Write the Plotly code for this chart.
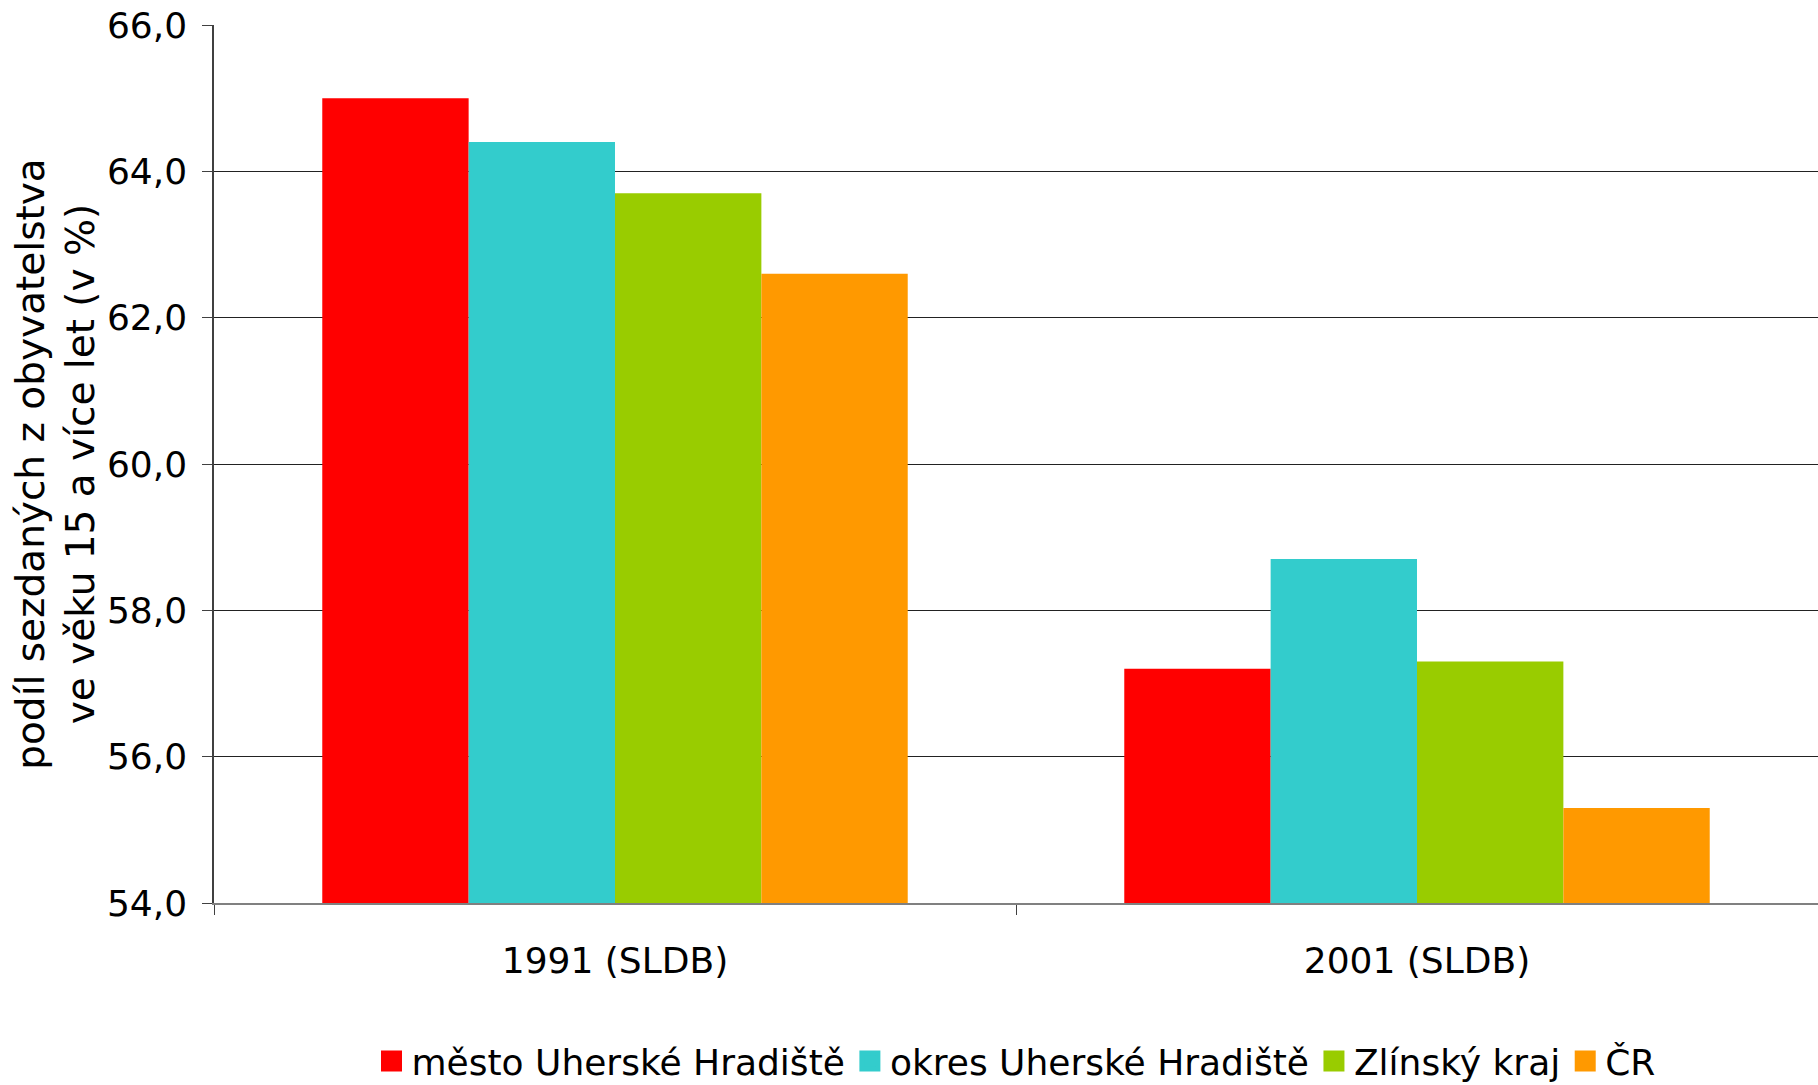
import plotly.graph_objects as go

categories = ["1991 (SLDB)", "2001 (SLDB)"]
series_names = ["město Uherské Hradiště", "okres Uherské Hradiště", "Zlínský kraj", "ČR"]
mesto_uh = [65.0, 57.2]
okres_uh = [64.4, 58.7]
zlinsky = [63.7, 57.3]
cr = [62.6, 55.3]
colors = ["#FF0000", "#33CCCC", "#99CC00", "#FF9900"]
y_ticks = [54, 56, 58, 60, 62, 64, 66]

FONT = "DejaVu Sans"

fig = go.Figure()
for name, vals, col in zip(series_names, [mesto_uh, okres_uh, zlinsky, cr], colors):
    fig.add_trace(go.Bar(x=categories, y=vals, name=name, showlegend=False,
                         marker=dict(color=col, line=dict(width=0))))
# legend entries with larger square symbols
for name, col in zip(series_names, colors):
    fig.add_trace(go.Scatter(x=[None], y=[None], mode="markers", name=name,
                             marker=dict(symbol="square", size=16, color=col,
                                         line=dict(width=5, color=col))))

fig.update_layout(
    width=1818, height=1085,
    barmode="group", bargap=0.27, bargroupgap=0,
    plot_bgcolor="white", paper_bgcolor="white",
    separators=", ",
    margin=dict(l=214, r=0, t=25, b=182, autoexpand=False),
    font=dict(family=FONT, size=34, color="black"),
    showlegend=True,
    legend=dict(orientation="h", x=0.5, xanchor="center", y=-0.18, yanchor="middle",
                font=dict(size=36, family=FONT), itemsizing="trace", itemwidth=30,
                tracegroupgap=0),
)
fig.update_xaxes(
    type="category", showline=True, linecolor="#808080", linewidth=1.5,
    ticks="outside", tickson="boundaries", ticklen=10, tickcolor="#404040",
    tickfont=dict(size=36, family=FONT), showgrid=False, ticklabelstandoff=25,
)
fig.update_yaxes(
    range=[54, 66], tickvals=y_ticks, tickformat=".1f",
    showline=True, linecolor="#404040", linewidth=1.5,
    ticks="outside", ticklen=10, tickcolor="#404040",
    showgrid=True, gridcolor="#222222", gridwidth=1,
    tickfont=dict(size=36, family=FONT), ticklabelstandoff=8,
    title=dict(text="podíl sezdaných z obyvatelstva<br>ve věku 15 a více let (v %)",
               font=dict(size=39, family=FONT), standoff=0),
)
fig.write_html("out.html", config={"displayModeBar": False},
               post_script="document.body.style.margin='0';")
